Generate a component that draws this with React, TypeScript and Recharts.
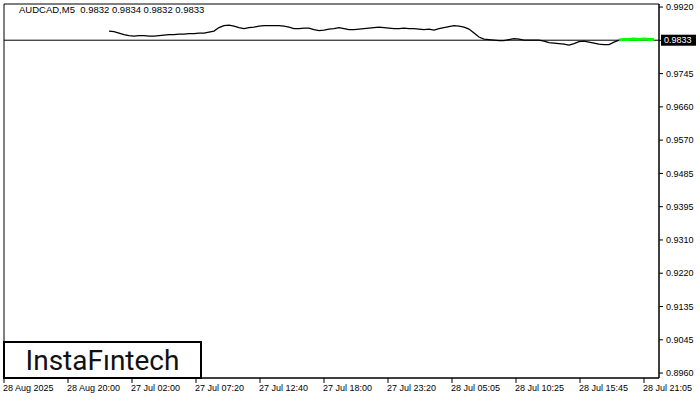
import { LineChart, Line, XAxis, YAxis, ReferenceLine, ReferenceArea } from 'recharts';

const symbolTitle = 'AUDCAD,M5  0.9832 0.9834 0.9832 0.9833';
const lastPrice = 0.9833;

// bar index of the first close on screen, and where the live (green) part starts
const firstBar = 21;
const liveFrom = 123;

const closes = [
  0.98571, 0.98557, 0.98518, 0.98479, 0.98452, 0.98439, 0.98452, 0.98452, 0.98439, 0.98439,
  0.98452, 0.98466, 0.98479, 0.98479, 0.98492, 0.98492, 0.98505, 0.98505, 0.98518, 0.98518,
  0.98544, 0.98571, 0.98662, 0.98715, 0.98728, 0.98702, 0.98662, 0.98636, 0.98662, 0.98675,
  0.98702, 0.98715, 0.98715, 0.98715, 0.98715, 0.98702, 0.98675, 0.98636, 0.98636, 0.98649,
  0.98649, 0.9861, 0.98584, 0.98597, 0.98623, 0.98636, 0.98662, 0.98636, 0.9861, 0.9861,
  0.98623, 0.98636, 0.98649, 0.98662, 0.98675, 0.98662, 0.98649, 0.98636, 0.98636, 0.98649,
  0.98636, 0.98636, 0.98623, 0.9861, 0.98623, 0.98597, 0.98636, 0.98662, 0.98689, 0.98715,
  0.98702, 0.98675, 0.98623, 0.98518, 0.98413, 0.98361, 0.98348, 0.98334, 0.98321, 0.98321,
  0.98348, 0.98374, 0.98361, 0.98334, 0.98334, 0.98334, 0.98334, 0.98308, 0.98269, 0.98256,
  0.98243, 0.9823, 0.98203, 0.98243, 0.98295, 0.98308, 0.98282, 0.98256, 0.9823, 0.98216,
  0.98216, 0.98282, 0.98334, 0.98348, 0.98348, 0.98361, 0.98348, 0.98361, 0.98348, 0.98348,
];

const yTickLabels = ['0.8960', '0.9045', '0.9135', '0.9220', '0.9310', '0.9395', '0.9485', '0.9570', '0.9660', '0.9745', '0.9830', '0.9920'];
const xTickLabels = [
  '28 Aug 2025', '28 Aug 20:00', '27 Jul 02:00', '27 Jul 07:20', '27 Jul 12:40', '27 Jul 18:00',
  '27 Jul 23:20', '28 Jul 05:05', '28 Jul 10:25', '28 Jul 15:45', '28 Jul 21:05',
];

const yMin = 0.896;
const yMax = 0.992;
const yDomain = [0.8947, 0.9928];
const xDomain = [0, 131];
const xLabelStep = 12.8;

const data = closes.map((c, k) => ({
  bar: firstBar + k,
  close: c,
  live: firstBar + k >= liveFrom ? c : null,
}));

const yTicks = yTickLabels.map((_, i) => yMin + (i * (yMax - yMin)) / (yTickLabels.length - 1));
const xTicks = xTickLabels.map((_, i) => i * xLabelStep);

const font = '"Liberation Sans", Arial, sans-serif';

const XTick = ({ x, y, index }: any) => (
  <text x={x - 1} y={y} dy="0.71em" textAnchor="start" fontSize={9} fontFamily={font} fill="#000">
    {xTickLabels[index]}
  </text>
);

const YTick = ({ x, y, index, payload }: any) => {
  if (Math.abs(payload.value - lastPrice) < 0.0005) return null;
  return (
    <text x={x} y={y} dy="0.355em" textAnchor="start" fontSize={9} fontFamily={font} fill="#000">
      {yTickLabels[index]}
    </text>
  );
};

const PriceTag = ({ viewBox }: any) => {
  if (!viewBox) return null;
  const x = viewBox.x + viewBox.width + 2;
  const y = viewBox.y;
  return (
    <g>
      <rect x={x} y={y - 5.5} width={35} height={11} fill="#000" />
      <text x={x + 3} y={y} dy="0.355em" fontSize={9} fontFamily={font} fill="#fff">
        {lastPrice.toFixed(4)}
      </text>
    </g>
  );
};

export default function App() {
  return (
    <div style={{ position: 'absolute', left: 0, top: 0, width: 700, height: 400, background: '#fff' }}>
      <LineChart width={700} height={400} data={data} margin={{ top: 4, left: 4, right: 0, bottom: 0 }}>
        <ReferenceArea
          x1={xDomain[0]}
          x2={xDomain[1]}
          y1={yDomain[0]}
          y2={yDomain[1]}
          fill="none"
          stroke="#000"
          strokeWidth={1}
          ifOverflow="visible"
        />
        <XAxis
          dataKey="bar"
          type="number"
          domain={xDomain}
          ticks={xTicks}
          interval={0}
          height={22}
          tickSize={5}
          tickMargin={2}
          axisLine={{ stroke: '#000' }}
          tickLine={{ stroke: '#000' }}
          tick={<XTick />}
          allowDataOverflow
        />
        <YAxis
          orientation="right"
          type="number"
          domain={yDomain}
          ticks={yTicks}
          interval={0}
          width={41}
          tickSize={4}
          tickMargin={3}
          axisLine={{ stroke: '#000' }}
          tickLine={{ stroke: '#000' }}
          tick={<YTick />}
          allowDataOverflow
        />
        <ReferenceLine y={lastPrice} stroke="#000" strokeWidth={1} label={<PriceTag />} ifOverflow="visible" />
        <Line
          type="linear"
          dataKey="close"
          stroke="#000"
          strokeWidth={1.3}
          dot={false}
          isAnimationActive={false}
        />
        <Line
          type="linear"
          dataKey="live"
          stroke="#00ff00"
          strokeWidth={3}
          dot={false}
          connectNulls={false}
          isAnimationActive={false}
        />
      </LineChart>
      <div
        style={{
          position: 'absolute',
          left: 19,
          top: 4,
          fontFamily: font,
          fontSize: 9.5,
          color: '#000',
          whiteSpace: 'pre',
        }}
      >
        {symbolTitle}
      </div>
      <div
        style={{
          position: 'absolute',
          left: 3,
          top: 341,
          width: 199,
          height: 38,
          boxSizing: 'border-box',
          border: '2.5px solid #000',
          background: '#fff',
          display: 'flex',
          alignItems: 'center',
          justifyContent: 'center',
          fontFamily: 'Roboto, sans-serif',
          fontSize: 28,
          fontWeight: 400,
          color: '#111',
        }}
      >
        InstaFıntech
      </div>
    </div>
  );
}
